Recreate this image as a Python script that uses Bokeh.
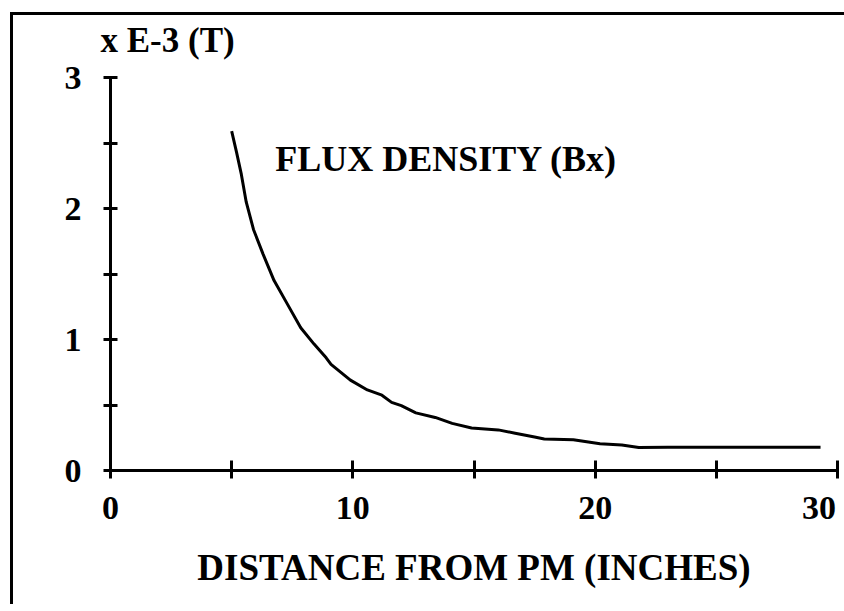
from bokeh.plotting import figure
from bokeh.models import Range1d, FixedTicker, Label
from bokeh.embed import file_html
from bokeh.resources import INLINE

# Flux density Bx (x 1e-3 T) versus distance from the permanent magnet (inches)
distance = [5.0, 5.2, 5.4, 5.6, 5.9, 6.3, 6.75, 7.3, 7.85, 8.4, 8.9, 9.1, 9.9,
            10.6, 11.2, 11.6, 12.0, 12.6, 13.4, 14.1, 14.9, 16.0, 16.7, 17.5,
            17.9, 19.1, 20.2, 21.1, 21.8, 23.0, 25.8, 29.3]
flux = [2.59, 2.43, 2.26, 2.05, 1.84, 1.65, 1.45, 1.27, 1.09, 0.965, 0.86, 0.81,
        0.69, 0.615, 0.575, 0.52, 0.495, 0.44, 0.405, 0.36, 0.325, 0.31, 0.285,
        0.255, 0.24, 0.235, 0.205, 0.195, 0.175, 0.177, 0.177, 0.177]

x_major = [0, 10, 20, 30]
x_minor = [5, 15, 25]
y_major = [0, 1, 2, 3]
y_minor = [0.5, 1.5, 2.5]

x_title = "DISTANCE FROM PM (INCHES)"
y_title = "x E-3 (T)"
curve_label = "FLUX DENSITY (Bx)"

FONT = "Liberation Serif"

# the picture's frame: only its left and top edges are visible
frame_css = ("linear-gradient(#000, #000) 10px 12px / 3px 100% no-repeat, "
             "linear-gradient(#000, #000) 10px 12px / 100% 3px no-repeat, #fff")

p = figure(width=844, height=604, output_backend="svg", toolbar_location=None,
           x_range=Range1d(0, 30), y_range=Range1d(0, 3),
           min_border_left=110, min_border_right=7, min_border_top=76,
           min_border_bottom=134,
           styles={"background": frame_css, "vertical-align": "top"})

p.outline_line_color = None
p.xgrid.visible = False
p.ygrid.visible = False
p.background_fill_color = "white"
p.border_fill_color = None

# title used as the unit label above the y axis
p.title.text = y_title
p.title.text_font = FONT
p.title.text_font_size = "35px"
p.title.text_font_style = "bold"
p.title.text_color = "black"
p.title.align = "left"
p.title.offset = -10
p.title.standoff = 36

for ax in (p.xaxis[0], p.yaxis[0]):
    ax.axis_line_width = 3
    ax.axis_line_color = "black"
    ax.major_tick_line_width = 3
    ax.minor_tick_line_width = 3
    ax.major_tick_line_color = "black"
    ax.minor_tick_line_color = "black"
    ax.major_label_text_font = FONT
    ax.major_label_text_font_size = "34px"
    ax.major_label_text_font_style = "bold"
    ax.major_label_text_color = "black"

xa = p.xaxis[0]
xa.ticker = FixedTicker(ticks=x_major, minor_ticks=x_minor)
xa.major_tick_in = 10
xa.major_tick_out = 8
xa.minor_tick_in = 10
xa.minor_tick_out = 8
xa.major_label_standoff = 10
xa.major_label_overrides = {30: "30\u00a0"}
xa.axis_label = x_title
xa.axis_label_text_font = FONT
xa.axis_label_text_font_size = "37px"
xa.axis_label_text_font_style = "bold"
xa.axis_label_text_color = "black"
xa.axis_label_standoff = 18

ya = p.yaxis[0]
ya.ticker = FixedTicker(ticks=y_major, minor_ticks=y_minor)
ya.major_tick_in = 7
ya.major_tick_out = 7
ya.minor_tick_in = 7
ya.minor_tick_out = 7
ya.major_label_standoff = 22

p.line(distance, flux, line_color="black", line_width=3)

p.add_layout(Label(x=6.8, y=2.38, text=curve_label, text_font=FONT,
                   text_font_size="36px", text_font_style="bold",
                   text_color="black", text_baseline="alphabetic"))

open("out.html", "w").write(file_html(p, INLINE))
